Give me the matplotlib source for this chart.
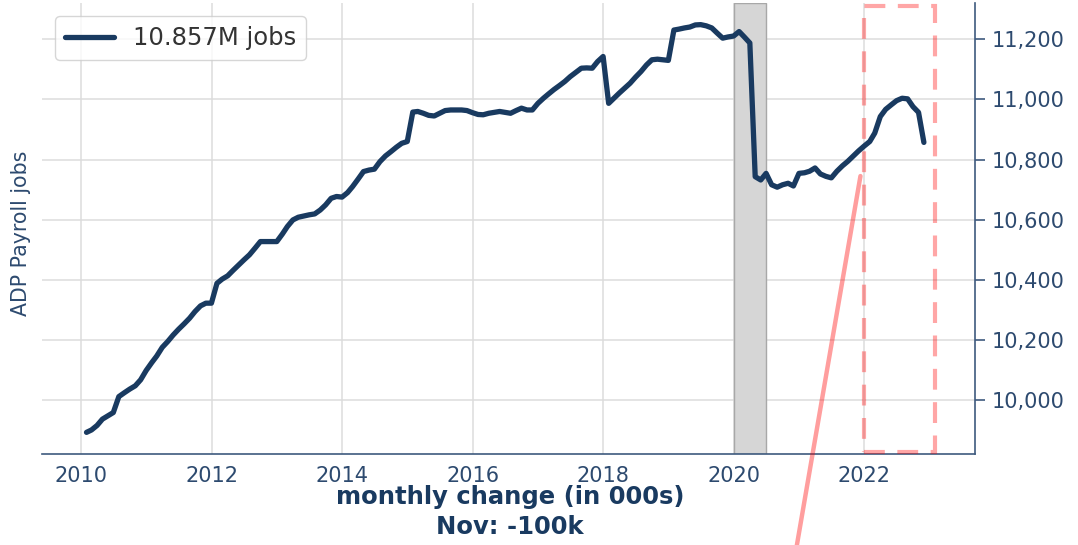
import numpy as np
import pandas as pd
import matplotlib
matplotlib.use("Agg")
import matplotlib.pyplot as plt
import matplotlib.dates as mdates
from matplotlib.patches import Rectangle, ConnectionPatch

# ADP payroll jobs (000s), monthly, Jan 2010 - Nov 2022
v2010 = [9892, 9900, 9915, 9936, 9947, 9958, 10011, 10024, 10036, 10047, 10067, 10098]
v2011 = [10124, 10146, 10175, 10194, 10216, 10235, 10253, 10272, 10294, 10313, 10322, 10322]
v2012 = [10388, 10402, 10413, 10431, 10449, 10466, 10483, 10505, 10527, 10527, 10527, 10527]
v2013 = [10552, 10577, 10599, 10608, 10612, 10616, 10619, 10632, 10649, 10671, 10677, 10675]
v2014 = [10690, 10710, 10735, 10760, 10765, 10768, 10793, 10812, 10826, 10841, 10854, 10860]
v2015 = [10958, 10960, 10954, 10947, 10945, 10954, 10963, 10965, 10965, 10965, 10963, 10956]
v2016 = [10950, 10949, 10954, 10957, 10960, 10957, 10954, 10963, 10971, 10965, 10965, 10987]
v2017 = [11004, 11018, 11033, 11046, 11060, 11076, 11090, 11104, 11105, 11104, 11126, 11143]
v2018 = [10987, 11003, 11021, 11037, 11054, 11074, 11093, 11115, 11132, 11134, 11132, 11130]
v2019 = [11231, 11234, 11238, 11241, 11248, 11249, 11245, 11238, 11221, 11204, 11208, 11211]
v2020 = [11226, 11208, 11188, 10743, 10732, 10754, 10716, 10708, 10716, 10721, 10712, 10754]
v2021 = [10756, 10761, 10772, 10752, 10744, 10739, 10761, 10779, 10794, 10812, 10829, 10845]
v2022 = [10860, 10888, 10943, 10967, 10982, 10996, 11004, 11002, 10976, 10957, 10857]

jobs = (v2010 + v2011 + v2012 + v2013 + v2014 + v2015 + v2016 + v2017
        + v2018 + v2019 + v2020 + v2021 + v2022)
dates = pd.date_range("2010-01-31", periods=len(jobs), freq="ME")

label = "10.857M jobs"
recession = ("2020-01-01", "2020-07-01")
zoom_box = ("2022-01-01", "2023-02-01", 9827, 11312)

navy = "#193a60"
txt = "#2d4a6f"
spine_c = "#3e5a7e"

fig = plt.figure(figsize=(10.78, 5.45), dpi=100)
ax = fig.add_axes([42 / 1078, 91 / 545, 933 / 1078, 451 / 545])

ax.axvspan(pd.Timestamp(recession[0]), pd.Timestamp(recession[1]),
           facecolor="#d6d6d6", edgecolor="#a8a8a8", lw=1, zorder=1)
ax.plot(dates, jobs, color=navy, lw=3.8, label=label, zorder=3,
        solid_capstyle="round", solid_joinstyle="round")

x0 = mdates.date2num(pd.Timestamp(zoom_box[0]))
x1 = mdates.date2num(pd.Timestamp(zoom_box[1]))
ax.add_patch(Rectangle((x0, zoom_box[2]), x1 - x0, zoom_box[3] - zoom_box[2],
                       fill=False, edgecolor="red", alpha=0.35, lw=3,
                       ls=(0, (5, 3)), zorder=4))

ax.set_xlim(pd.Timestamp("2009-05-27"), pd.Timestamp("2023-09-12"))
ax.set_ylim(9820, 11321)
ax.xaxis.set_major_locator(mdates.YearLocator(2))
ax.xaxis.set_major_formatter(mdates.DateFormatter("%Y"))
ax.set_yticks([10000, 10200, 10400, 10600, 10800, 11000, 11200])
ax.yaxis.set_major_formatter(matplotlib.ticker.StrMethodFormatter("{x:,.0f}"))
ax.yaxis.tick_right()

ax.grid(True, color="#dcdcdc", lw=1.1, zorder=0)
ax.set_axisbelow(True)
for s in ["left", "top"]:
    ax.spines[s].set_visible(False)
for s in ["right", "bottom"]:
    ax.spines[s].set_color(spine_c)
    ax.spines[s].set_linewidth(1.2)

ax.tick_params(axis="x", length=0, pad=9, labelsize=15, labelcolor=txt)
ax.tick_params(axis="y", length=7, width=1.2, color=spine_c, pad=5,
               labelsize=15, labelcolor=txt)

ax.set_ylabel("ADP Payroll jobs", fontsize=14.8, color=txt)
ax.yaxis.set_label_position("left")
ax.yaxis.set_label_coords(-0.012, 0.49)

leg = ax.legend(loc="upper left", fontsize=17.5, borderaxespad=0.55,
                framealpha=0.8, edgecolor="#cccccc")
for t in leg.get_texts():
    t.set_color("#333333")

# connector line to the (cropped) lower panel
con = ConnectionPatch(xyA=(mdates.date2num(pd.Timestamp("2021-12-10")), 10745),
                      coordsA=ax.transData,
                      xyB=(0.7375, -0.02), coordsB=fig.transFigure,
                      color="red", alpha=0.38, lw=3.2, zorder=5)
fig.add_artist(con)

fig.text(510 / 1078, 1 - 497 / 545, "monthly change (in 000s)", ha="center",
         va="center", fontsize=17.5, fontweight="bold", color=navy)
fig.text(510 / 1078, 1 - 527 / 545, "Nov: -100k", ha="center",
         va="center", fontsize=17.5, fontweight="bold", color=navy)

fig.savefig("out.png", dpi=100)
